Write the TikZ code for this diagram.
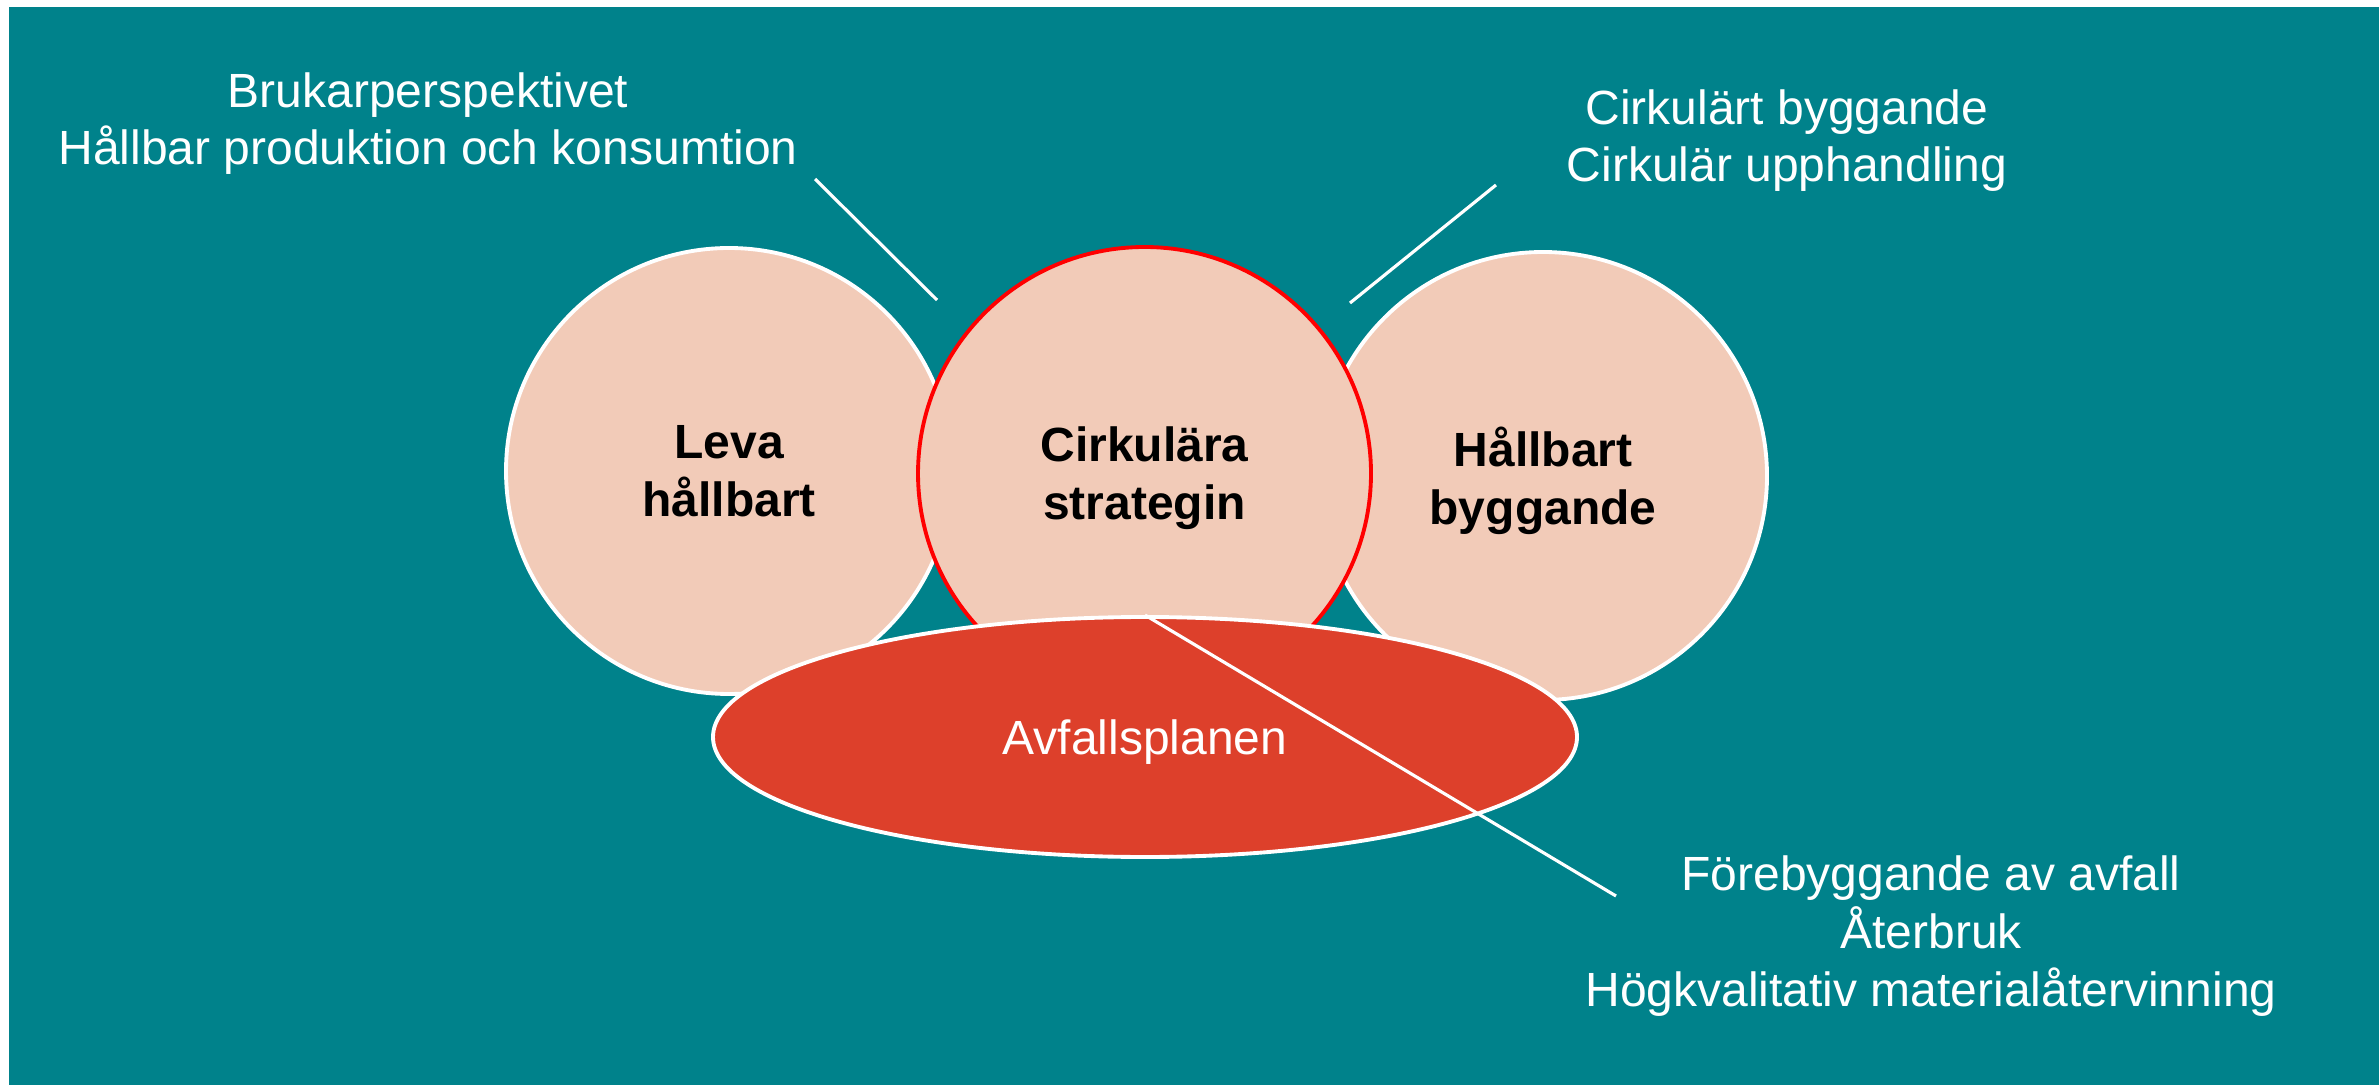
\documentclass[tikz,border=0pt]{standalone}
\usepackage{fontspec}
\setmainfont{Liberation Sans}
\setsansfont{Liberation Sans}
\usetikzlibrary{shapes.geometric}

\definecolor{tealbg}{RGB}{0,130,139}
\definecolor{peach}{RGB}{242,203,184}
\definecolor{wastered}{RGB}{221,64,43}

\newcommand{\mytextsize}{\fontsize{13.66pt}{16.5pt}\selectfont}

\tikzset{
	area/.style = {circle, fill = peach, draw = white, line width = \mylinewidth,
		minimum size = #1, inner sep = 0pt, align = center, text depth = -0.06cm,
		font = \bfseries\mytextsize},
	plan/.style = {ellipse, fill = wastered, draw = white, line width = \mylinewidth,
		minimum width = 8.64cm, minimum height = 2.40cm, inner sep = 0pt,
		text = white, text depth = 0pt, font = \mytextsize},
	note/.style = {text = white, align = center, inner sep = 0pt, font = \mytextsize},
	link/.style = {white, line width = \mythinline}
}

\begin{document}
\begin{tikzpicture}[font = \sffamily]
		\def\mylinewidth{1.1pt}
		\def\mythinline{0.9pt}
		%--------------------

		\useasboundingbox (0,0) rectangle (23.79,10.85);
		\fill[tealbg] (0.09,0) rectangle (23.79,10.78);

		%--------------------
		\node[area = 4.46cm, text depth = -0.16cm] (leva) at (7.29,6.14) {Leva\\hållbart};
		\node[area = 4.48cm] (bygg) at (15.43,6.09) {Hållbart\\byggande};
		\node[area = 4.53cm, draw = red] (cirk) at (11.445,6.115) {Cirkulära\\strategin};
		\node[plan] (avfall) at (11.45,3.48) {Avfallsplanen};

		%--------------------
		% base = baseline of the last line
		\node[note, anchor = base] (bruk) at (4.28,9.20) {Brukarperspektivet\\Hållbar produktion och konsumtion};
		\node[note, anchor = base] (cbygg) at (17.87,9.03) {Cirkulärt byggande\\Cirkulär upphandling};
		\node[note, anchor = base] (fore) at (19.31,0.79) {Förebyggande av avfall\\Återbruk\\Högkvalitativ materialåtervinning};

		\coordinate (bruk-a) at (8.15,9.06);
		\coordinate (bruk-b) at (9.37,7.85);
		\coordinate (cbygg-a) at (14.96,9.00);
		\coordinate (cbygg-b) at (13.50,7.82);
		\coordinate (fore-a) at (16.16,1.89);

		\draw[link] (bruk-a) -- (bruk-b);
		\draw[link] (cbygg-a) -- (cbygg-b);
		\draw[link] (avfall.north) -- (fore-a);
\end{tikzpicture}
\end{document}
